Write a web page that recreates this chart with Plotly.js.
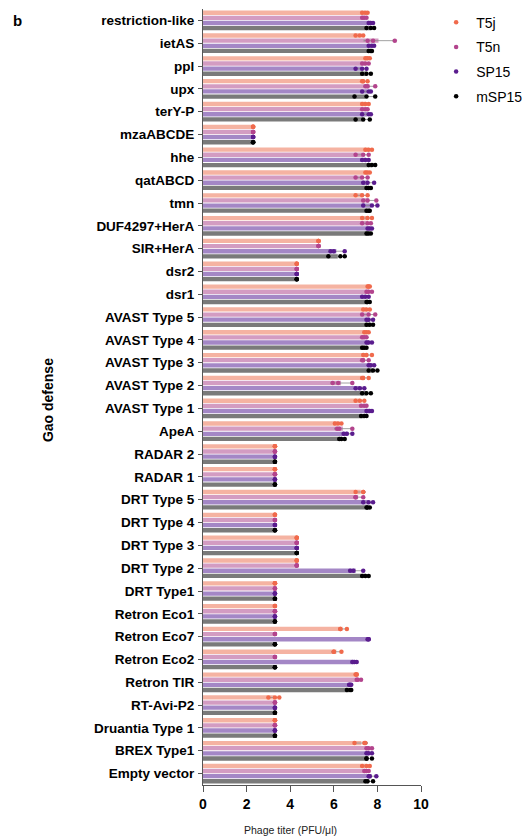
<!DOCTYPE html>
<html>
<head>
<meta charset="utf-8">
<script src="https://cdn.plot.ly/plotly-3.0.1.min.js"></script>
<style>html,body{margin:0;padding:0;background:#fff;}#chart{width:528px;height:838px;}</style>
</head>
<body>
<div id="chart"></div>
<script>
const categories = ["restriction-like","ietAS","ppl","upx","terY-P","mzaABCDE","hhe","qatABCD","tmn","DUF4297+HerA","SIR+HerA","dsr2","dsr1","AVAST Type 5","AVAST Type 4","AVAST Type 3","AVAST Type 2","AVAST Type 1","ApeA","RADAR 2","RADAR 1","DRT Type 5","DRT Type 4","DRT Type 3","DRT Type 2","DRT Type1","Retron Eco1","Retron Eco7","Retron Eco2","Retron TIR","RT-Avi-P2","Druantia Type 1","BREX Type1","Empty vector"];

// replicate phage titers (log10 PFU/µl), one triple per category
const T5j = [[7.3,7.45,7.55],[7.0,7.2,7.35],[7.45,7.55,7.65],[7.3,7.35,7.55],[7.3,7.45,7.6],[2.3,2.3,2.3],[7.45,7.6,7.75],[7.45,7.55,7.65],[7.0,7.3,7.55],[7.3,7.55,7.75],[5.3,5.3,5.3],[4.3,4.3,4.3],[7.55,7.6,7.65],[7.35,7.5,7.65],[7.4,7.5,7.6],[7.35,7.5,7.75],[7.3,7.35,7.6],[7.0,7.2,7.4],[6.05,6.2,6.35],[3.3,3.3,3.3],[3.3,3.3,3.3],[7.0,7.35,7.35],[3.3,3.3,3.3],[4.3,4.3,4.3],[4.3,4.3,4.3],[3.3,3.3,3.3],[3.3,3.3,3.3],[6.3,6.3,6.6],[6.0,6.0,6.35],[7.0,7.05,7.05],[3.0,3.3,3.5],[3.3,3.3,3.3],[6.95,7.4,7.45],[7.3,7.5,7.65]];
const T5n = [[7.3,7.4,7.5],[7.55,7.8,8.8],[7.3,7.45,7.6],[7.45,7.55,7.9],[7.3,7.45,7.55],[2.3,2.3,2.3],[7.0,7.35,7.6],[7.0,7.3,7.55],[7.35,7.55,7.95],[7.3,7.55,7.7],[5.3,5.3,5.3],[4.3,4.3,4.3],[7.5,7.6,7.75],[7.3,7.6,7.9],[7.3,7.4,7.5],[7.3,7.35,7.6],[5.95,6.2,6.85],[7.25,7.4,7.5],[6.15,6.25,6.85],[3.3,3.3,3.3],[3.3,3.3,3.3],[7.0,7.0,7.35],[3.3,3.3,3.3],[4.3,4.3,4.3],[4.3,4.3,4.3],[3.3,3.3,3.3],[3.3,3.3,3.3],[3.3,3.3,3.3],[3.3,3.3,3.3],[7.05,7.1,7.25],[3.3,3.3,3.3],[3.3,3.3,3.3],[7.5,7.6,7.75],[7.4,7.5,7.6]];
const SP15 = [[7.6,7.7,7.8],[7.6,7.75,7.85],[7.0,7.3,7.5],[7.3,7.6,7.7],[7.3,7.6,7.7],[2.3,2.3,2.3],[7.3,7.45,7.6],[7.35,7.55,7.85],[7.35,7.75,8.0],[7.55,7.65,7.75],[5.85,6.0,6.5],[4.3,4.3,4.3],[7.3,7.45,7.6],[7.5,7.6,7.8],[7.5,7.6,7.75],[7.6,7.7,7.85],[7.0,7.2,7.4],[7.5,7.65,7.75],[6.45,6.6,6.85],[3.3,3.3,3.3],[3.3,3.3,3.3],[7.35,7.6,7.8],[3.3,3.3,3.3],[4.3,4.3,4.3],[6.75,6.9,7.35],[3.3,3.3,3.3],[3.3,3.3,3.3],[7.55,7.6,7.6],[6.85,6.95,7.05],[6.7,6.75,6.8],[3.3,3.3,3.3],[3.3,3.3,3.3],[7.5,7.6,7.75],[7.6,7.65,7.95]];
const mSP15 = [[7.5,7.7,7.85],[7.6,7.7,7.75],[7.3,7.5,7.7],[6.95,7.5,7.9],[7.0,7.35,7.65],[2.3,2.3,2.3],[7.6,7.75,7.9],[7.5,7.6,7.7],[7.5,7.6,7.65],[7.5,7.6,7.7],[5.75,6.3,6.5],[4.3,4.3,4.3],[7.5,7.55,7.65],[7.5,7.65,7.8],[7.3,7.4,7.5],[7.6,7.8,8.0],[7.3,7.5,7.7],[7.25,7.4,7.5],[6.25,6.35,6.5],[3.3,3.3,3.3],[3.3,3.3,3.3],[7.5,7.55,7.65],[3.3,3.3,3.3],[4.3,4.3,4.3],[7.3,7.45,7.6],[3.3,3.3,3.3],[3.3,3.3,3.3],[3.3,3.3,3.3],[3.3,3.3,3.3],[6.6,6.75,6.8],[3.3,3.3,3.3],[3.3,3.3,3.3],[7.5,7.5,7.75],[7.45,7.55,7.8]];

const seriesNames = ["T5j","T5n","SP15","mSP15"];
const seriesData = [T5j, T5n, SP15, mSP15];
const xTicks = [0,2,4,6,8,10];

const barColors = ["#f5b3a2","#d39cc2","#a487c6","#7a7a7a"];
const dotColors = ["#f06a4c","#b3448d","#5a1c8e","#000000"];
const step = 0.225;
const offsets = [-1.5*step,-0.5*step,0.5*step,1.5*step];
const barW = 0.19;

const mean = a => a.reduce((s,v)=>s+v,0)/a.length;
const sd = a => { const m = mean(a); return Math.sqrt(a.reduce((s,v)=>s+(v-m)*(v-m),0)/(a.length-1)); };

const traces = [];
seriesData.forEach((data, s) => {
  const idx = categories.map((c,i)=>i);
  traces.push({
    type:'bar', orientation:'h',
    x: data.map(mean),
    y: idx.map(i=>i+offsets[s]),
    width: barW,
    marker:{color:barColors[s], line:{width:0}},
    error_x:{type:'data', array:data.map(sd), visible:true, color:'#8a8a8a', thickness:0.8, width:1},
    showlegend:false, hoverinfo:'skip'
  });
});
seriesData.forEach((data, s) => {
  const xs = [], ys = [];
  data.forEach((reps,i)=>reps.forEach(v=>{xs.push(v); ys.push(i+offsets[s]);}));
  traces.push({
    type:'scatter', mode:'markers', name:seriesNames[s],
    x: xs, y: ys,
    marker:{color:dotColors[s], size:4.5},
    legendgroup:seriesNames[s]
  });
});

const font = {family:'"Liberation Sans", Arial, Helvetica, sans-serif', color:'#000'};
const layout = {
  width:528, height:838,
  margin:{l:203, r:107, t:8.6, b:52.6, pad:0, autoexpand:false},
  paper_bgcolor:'#fff', plot_bgcolor:'#fff',
  barmode:'overlay',
  font: font,
  xaxis:{
    range:[0,10], tickvals:xTicks, ticktext:xTicks.map(String),
    showgrid:false, zeroline:false, showline:true, linecolor:'#555', linewidth:1,
    ticks:'outside', ticklen:6, tickcolor:'#555', tickwidth:1,
    tickfont:{family:font.family, size:14, weight:'bold', color:'#000'},
    fixedrange:true
  },
  yaxis:{
    range:[categories.length-0.5,-0.5],
    tickvals:categories.map((c,i)=>i), ticktext:categories,
    showgrid:false, zeroline:false, showline:true, linecolor:'#555', linewidth:1,
    ticks:'outside', ticklen:4, tickcolor:'#555', tickwidth:1,
    tickfont:{family:font.family, size:13.5, weight:'bold', color:'#000'},
    ticklabelstandoff:1,
    fixedrange:true
  },
  showlegend:true,
  legend:{xref:'container', yref:'container', x:0.826, xanchor:'left', y:0.9921, yanchor:'top', bgcolor:'rgba(0,0,0,0)',
    font:{family:font.family, size:14, color:'#000'}, tracegroupgap:3.5, itemsizing:'trace'},
  annotations:[
    {text:'<b>b</b>', xref:'paper', yref:'paper', x:-0.853, y:0.9853, showarrow:false, xanchor:'center', yanchor:'middle', font:{family:font.family, size:15, color:'#000'}},
    {text:'<b>Gao defense</b>', xref:'paper', yref:'paper', x:-0.711, y:0.496, showarrow:false, textangle:-90, xanchor:'center', yanchor:'middle', font:{family:font.family, size:14, color:'#000'}},
    {text:'Phage titer (PFU/μl)', xref:'paper', yref:'paper', x:0.4, y:-0.0574, showarrow:false, xanchor:'center', yanchor:'middle', font:{family:font.family, size:10.5, color:'#222'}}
  ]
};
Plotly.newPlot('chart', traces, layout, {displayModeBar:false, staticPlot:true});
</script>
</body>
</html>
